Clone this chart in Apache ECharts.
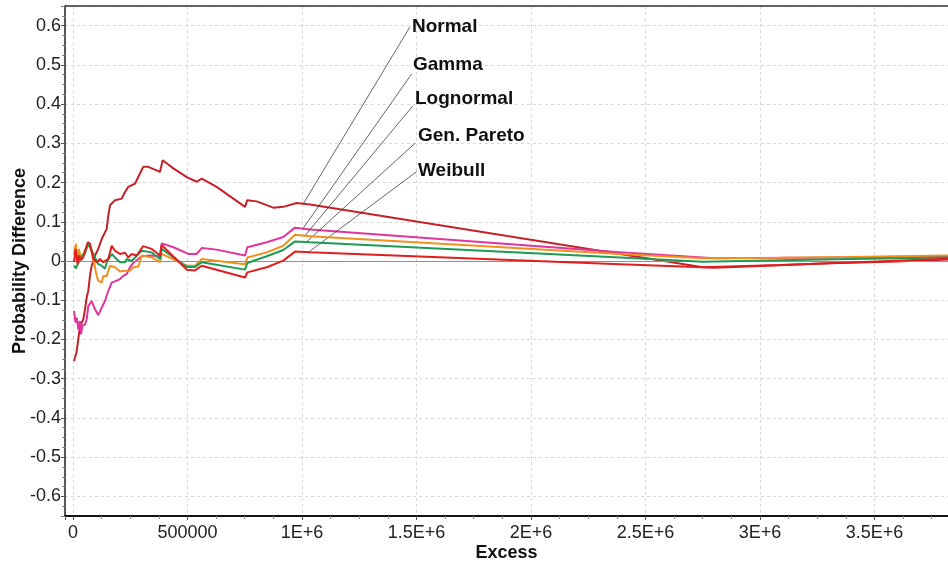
<!DOCTYPE html>
<html>
<head>
<meta charset="utf-8">
<script src="https://cdn.jsdelivr.net/npm/echarts@6/dist/echarts.min.js"></script>
<style>
  html, body { margin: 0; padding: 0; background: #fff; }
  #chart { width: 948px; height: 563px; }
</style>
</head>
<body>
<div id="chart"></div>
<script>
// series values, [excess, probability difference]
var normalData = [[4400,-0.255],[15000,-0.234],[23100,-0.2],[30600,-0.166],[45000,-0.149],[52400,-0.123],[59800,-0.093],[66800,-0.076],[74200,-0.038],[81700,-0.012],[96100,0.014],[110500,0.031],[125300,0.056],[147200,0.082],[154200,0.116],[161600,0.142],[183400,0.155],[212700,0.159],[227100,0.176],[241500,0.189],[270700,0.197],[285200,0.214],[306700,0.24],[328800,0.24],[379900,0.227],[391600,0.257],[438500,0.236],[496600,0.214],[540200,0.202],[562000,0.21],[627500,0.189],[751100,0.138],[761200,0.155],[802200,0.152],[874700,0.136],[918400,0.138],[976900,0.148],[1035000,0.144],[2751200,-0.016],[2800000,-0.017],[3000000,-0.013],[3300000,-0.006],[3600000,-0.001],[3821000,0.004]];
var gammaData = [[4400,-0.127],[11400,-0.157],[17000,-0.145],[23100,-0.174],[30600,-0.153],[34900,-0.187],[41000,-0.165],[52400,-0.162],[59800,-0.149],[66800,-0.115],[81700,-0.102],[96100,-0.123],[110500,-0.138],[125300,-0.119],[139700,-0.102],[154200,-0.076],[169000,-0.055],[191000,-0.05],[205200,-0.046],[219700,-0.038],[234500,-0.033],[248900,-0.016],[263300,-0.005],[300000,0.012],[336300,0.014],[379900,0.012],[387400,0.045],[438500,0.035],[503500,0.018],[540200,0.018],[562000,0.033],[627500,0.029],[751100,0.014],[761200,0.035],[845900,0.048],[918400,0.061],[969500,0.085],[1035000,0.08],[2388700,0.022],[2800000,0.007],[3300000,0.009],[3821000,0.012]];
var lognormalData = [[4400,0.018],[13100,0.044],[17000,0],[25800,0.031],[34900,0.005],[45000,0.018],[66800,0.044],[78600,0.035],[88600,0.005],[103500,-0.038],[110500,-0.05],[125300,-0.055],[132300,-0.038],[147200,-0.038],[161600,-0.012],[183400,-0.016],[205200,-0.027],[227100,-0.025],[248900,-0.025],[263300,-0.016],[285200,-0.014],[300000,0.014],[343300,0.009],[379900,-0.003],[387400,0.018],[496600,-0.012],[532800,-0.012],[562000,0.005],[751100,-0.008],[761200,0.009],[845900,0.022],[918400,0.039],[969500,0.067],[1035000,0.063],[2388700,0.018],[2751200,0.007],[3087500,0.008],[3393000,0.01],[3821000,0.014]];
var paretoData = [[4400,-0.012],[13100,-0.019],[23100,-0.005],[38000,0.012],[52400,0.02],[66800,0.044],[81700,0.026],[96100,0.009],[110500,-0.008],[125300,-0.012],[139700,-0.02],[147200,-0.003],[169000,0.018],[183400,0.009],[205200,-0.003],[227100,-0.003],[234500,0.005],[256300,0],[300000,0.026],[343300,0.022],[379900,0.005],[387400,0.031],[496600,-0.015],[532800,-0.015],[562000,-0.003],[751100,-0.022],[761200,-0.005],[845900,0.012],[918400,0.028],[969500,0.05],[1035000,0.048],[2388700,0.009],[2751200,-0.002],[3087500,0.002],[3393000,0.005],[3821000,0.009]];
var weibullData = [[4400,-0.003],[11400,0.031],[20000,-0.008],[25800,0.014],[34900,0.002],[45000,0.01],[55900,0.031],[64600,0.048],[74200,0.044],[88600,0.005],[103500,-0.003],[117900,0.005],[132300,-0.003],[154200,0.005],[169000,0.039],[183400,0.026],[205200,0.018],[227100,0.021],[241500,0.009],[256300,0.018],[278200,0.014],[306700,0.038],[343300,0.031],[379900,0.014],[387400,0.041],[496600,-0.022],[532800,-0.024],[562000,-0.012],[751100,-0.042],[761200,-0.029],[845900,-0.016],[918400,0.001],[969500,0.024],[1035000,0.022],[2388700,-0.008],[2751200,-0.016],[3087500,-0.01],[3393000,-0.004],[3821000,0.006]];

var seriesNames = ['Normal', 'Gamma', 'Lognormal', 'Gen. Pareto', 'Weibull'];
var seriesColors = ['#c4222a', '#e0359b', '#f0901e', '#1f9a55', '#e01e1e'];
// leader line: start on the curve, end near the label; label anchor (left, middle)
var leaderStart = [[1005700,0.146],[1005700,0.084],[1013200,0.065],[1020500,0.049],[1031900,0.024]];
var leaderEnd = [[1471700,0.597],[1479100,0.477],[1483500,0.395],[1493500,0.3],[1501000,0.228]];
var labelAt = [[1480400,0.597],[1484800,0.499],[1493500,0.414],[1506600,0.319],[1506600,0.229]];

var xMin = -34900, xMax = 3821000;
var yMin = -0.65, yMax = 0.65;

var chart = echarts.init(document.getElementById('chart'));
var font = 'Arial, "Liberation Sans", sans-serif';

function xLabel(v) {
  if (Math.abs(v % 500000) > 1e-6) return '';
  if (v === 0) return '0';
  if (v === 500000) return '500000';
  return (v / 1e6) + 'E+6';
}
function yLabel(v) {
  var t = v * 10;
  if (Math.abs(t - Math.round(t)) > 1e-6) return '';
  return (Math.round(t) / 10).toString();
}

var allData = [normalData, gammaData, lognormalData, paretoData, weibullData];
var series = allData.map(function (d, i) {
  var s = {
    name: seriesNames[i],
    type: 'line',
    data: d,
    showSymbol: false,
    symbol: 'none',
    lineStyle: { color: seriesColors[i], width: 2 },
    itemStyle: { color: seriesColors[i] },
    z: 3 + i,
    markLine: {
      silent: true,
      symbol: ['none', 'none'],
      animation: false,
      label: { show: false },
      lineStyle: { color: '#222', width: 0.7, type: 'solid' },
      data: [[{ coord: leaderStart[i] }, { coord: leaderEnd[i] }]]
    },
    markPoint: {
      silent: true,
      symbol: 'circle',
      symbolSize: 0,
      animation: false,
      label: {
        show: true,
        position: 'right',
        distance: 0,
        formatter: seriesNames[i],
        color: '#111',
        fontFamily: font,
        fontWeight: 'bold',
        fontSize: 19
      },
      data: [{ coord: labelAt[i] }]
    }
  };
  return s;
});
// reference line at zero
series.push({
  type: 'line',
  data: [],
  z: 2,
  markLine: {
    silent: true,
    symbol: ['none', 'none'],
    animation: false,
    label: { show: false },
    lineStyle: { color: '#6a9fb0', width: 1, type: 'solid' },
    data: [{ yAxis: 0 }]
  }
});

var option = {
  animation: false,
  backgroundColor: '#fff',
  grid: { left: 65, right: 0, top: 6, bottom: 47, outerBoundsMode: 'none', containLabel: false },
  xAxis: [{
    type: 'value',
    min: xMin,
    max: xMax,
    splitNumber: 8,
    name: 'Excess',
    nameLocation: 'middle',
    nameGap: 28,
    nameMoveOverlap: false,
    nameTextStyle: { fontFamily: font, fontWeight: 'bold', fontSize: 18, color: '#111' },
    axisLine: { show: true, onZero: false, lineStyle: { color: '#111', width: 2 } },
    axisTick: { show: true, length: 4, lineStyle: { color: '#555' } },
    minorTick: { show: true, splitNumber: 4, length: 3, lineStyle: { color: '#888' } },
    axisLabel: { formatter: xLabel, fontFamily: font, fontSize: 18, color: '#222', margin: 8 },
    splitLine: { show: true, lineStyle: { color: '#d6d6d6', type: [3, 3], width: 1 } }
  }, {
    type: 'value',
    position: 'top',
    min: xMin,
    max: xMax,
    axisLine: { show: true, onZero: false, lineStyle: { color: '#333', width: 1.5 } },
    axisTick: { show: false },
    axisLabel: { show: false },
    splitLine: { show: false }
  }],
  yAxis: {
    type: 'value',
    min: yMin,
    max: yMax,
    splitNumber: 13,
    name: 'Probability Difference',
    nameLocation: 'middle',
    nameGap: 36,
    nameMoveOverlap: false,
    nameTextStyle: { fontFamily: font, fontWeight: 'bold', fontSize: 18, color: '#111' },
    axisLine: { show: true, onZero: false, lineStyle: { color: '#222', width: 1.5 } },
    axisTick: { show: true, length: 4, lineStyle: { color: '#555' } },
    minorTick: { show: true, splitNumber: 4, length: 3, lineStyle: { color: '#888' } },
    axisLabel: { formatter: yLabel, fontFamily: font, fontSize: 18, color: '#222', margin: 4 },
    splitLine: { show: true, lineStyle: { color: '#d6d6d6', type: [3, 3], width: 1 } }
  },
  series: series
};

chart.setOption(option);
</script>
</body>
</html>
